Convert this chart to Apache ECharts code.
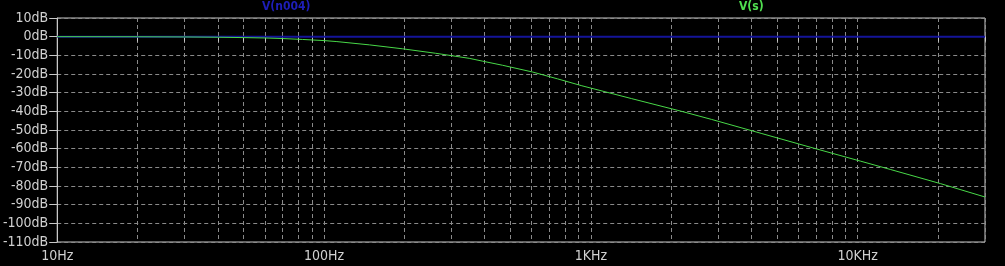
<!DOCTYPE html>
<html>
<head>
<meta charset="utf-8">
<script src="https://cdn.jsdelivr.net/npm/echarts@6/dist/echarts.min.js"></script>
<style>
html,body{margin:0;padding:0;background:#000;}
#c{width:1005px;height:266px;}
</style>
</head>
<body>
<div id="c"></div>
<script>
// Frequencies (Hz) and magnitudes (dB)
const freqHz = [10,20,30,40,50,60,70,83,100,111,148,197,262,350,392,466,603,750,925,1422,2187,2829,4346,6677,10260,13300,20400,30000];
const vsDb   = [0,-0.05,-0.15,-0.3,-0.5,-0.7,-1.0,-1.5,-2.1,-2.6,-4.4,-6.5,-8.9,-11.6,-13.1,-15.3,-18.9,-22.6,-26.3,-33.2,-40.0,-44.3,-51.8,-59.3,-66.7,-71.2,-78.7,-85.9];
const n004Freq = [10,30000];
const n004Db   = [0,0];
const xTickHz  = [10,100,1000,10000];
const xTickLabels = ['10Hz','100Hz','1KHz','10KHz'];
const gridMultipliers = [1,2,3,4,5,6,7,8,9];
const yMin = -110, yMax = 10, yStep = 10;
const seriesNames = ['V(n004)','V(s)'];

const fMin = 10, fMax = 30000;
const gridVals = [];
for (let d = 1; d <= 4; d++) {
  for (const k of gridMultipliers) {
    const f = k * Math.pow(10, d);
    if (f > fMin * 0.999 && f <= fMax * 1.001) gridVals.push(Math.log10(f));
  }
}
const labelMap = {};
xTickHz.forEach((f, i) => { labelMap[Math.log10(f).toFixed(4)] = xTickLabels[i]; });

const font = "'Liberation Sans Narrow','DejaVu Sans Condensed','Liberation Sans',sans-serif";
const chart = echarts.init(document.getElementById('c'), null, {renderer: 'canvas'});
chart.setOption({
  backgroundColor: '#000',
  animation: false,
  grid: {left: 53, right: 20, top: 18, bottom: 24, show: true, borderColor: '#c8c8c8', borderWidth: 1, backgroundColor: 'transparent'},
  graphic: [
    {type: 'text', left: 262, top: 1, style: {text: seriesNames[0], fill: '#1e1eb8', font: "bold 12px " + font}},
    {type: 'text', left: 739, top: 1, style: {text: seriesNames[1], fill: '#50e050', font: "bold 12px " + font}}
  ],
  xAxis: {
    type: 'value',
    min: Math.log10(fMin),
    max: Math.log10(fMax),
    axisLine: {show: true, lineStyle: {color: '#c8c8c8', width: 1}},
    axisTick: {show: true, length: 5, customValues: gridVals, lineStyle: {color: '#c8c8c8'}},
    splitLine: {show: true, lineStyle: {color: '#8a8a8a', type: [4,3], width: 1}},
    axisLabel: {
      customValues: xTickHz.map(f => Math.log10(f)),
      formatter: v => labelMap[v.toFixed(4)] || '',
      color: '#d0d0d0', fontFamily: font, fontSize: 14, margin: 7
    }
  },
  yAxis: {
    type: 'value',
    min: yMin, max: yMax, interval: yStep,
    axisLine: {show: true, lineStyle: {color: '#c8c8c8', width: 1}},
    axisTick: {show: true, length: 8, lineStyle: {color: '#c8c8c8'}},
    splitLine: {show: true, lineStyle: {color: '#8a8a8a', type: [4,3], width: 1}},
    axisLabel: {formatter: v => v + 'dB', color: '#d0d0d0', fontFamily: font, fontSize: 14, margin: 9}
  },
  series: [
    {
      name: seriesNames[0], type: 'line', symbol: 'none',
      data: n004Freq.map((f, i) => [Math.log10(f), n004Db[i]]),
      lineStyle: {color: '#14149a', width: 2}, z: 2
    },
    {
      name: seriesNames[1], type: 'line', symbol: 'none',
      data: freqHz.map((f, i) => [Math.log10(f), vsDb[i]]),
      lineStyle: {color: '#48d848', width: 1}, z: 3
    }
  ]
});
</script>
</body>
</html>
